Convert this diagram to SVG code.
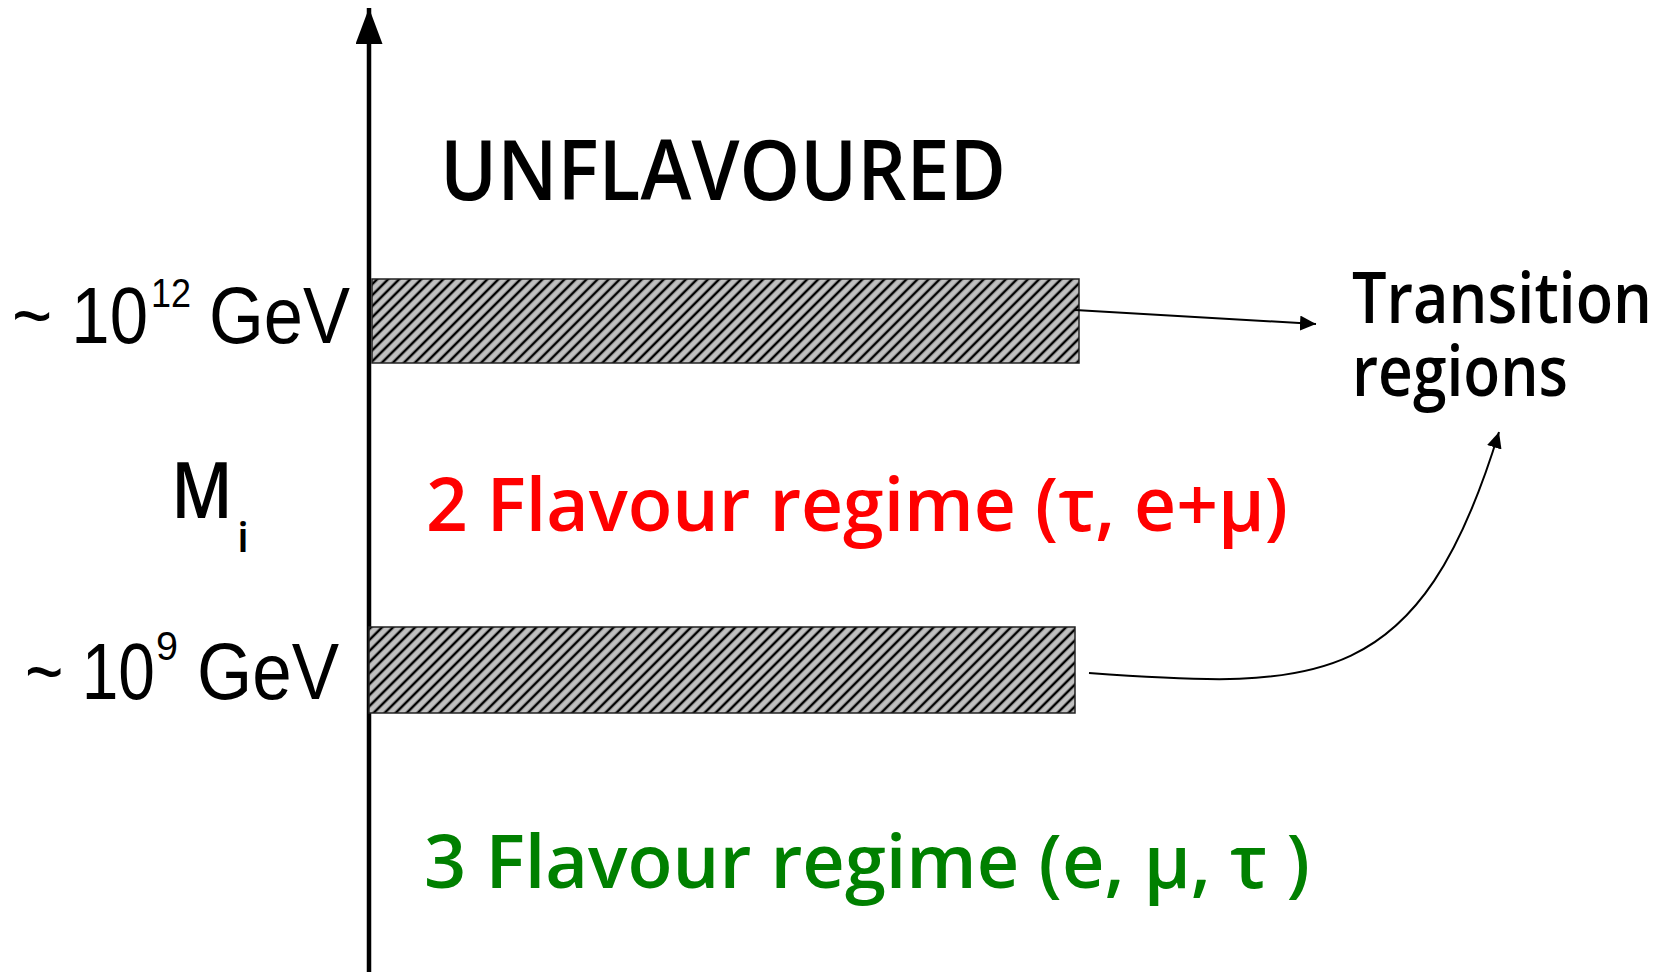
<svg xmlns="http://www.w3.org/2000/svg" width="1676" height="972" viewBox="0 0 1676 972">
<style>
.comic{font-family:"Open Sans","DejaVu Sans",sans-serif;font-weight:600}
.arial{font-family:"Liberation Sans",Arial,sans-serif}
.bar{fill:url(#hatch);stroke:#222;stroke-width:1.5}
.conn{fill:none;stroke:#000;stroke-width:2}
</style>
<defs>
<pattern id="hatch" patternUnits="userSpaceOnUse" width="7.8" height="7.8" patternTransform="rotate(45)">
<rect width="7.8" height="7.8" fill="#c0c0c0"/>
<line x1="3.9" y1="0" x2="3.9" y2="7.8" stroke="#000" stroke-width="2.5"/>
</pattern>
<marker id="ah" markerUnits="userSpaceOnUse" markerWidth="16" markerHeight="15" refX="16" refY="7.5" orient="auto">
<path d="M0,0 L16,7.5 L0,15 z" fill="#000"/>
</marker>
<marker id="axhead" markerUnits="userSpaceOnUse" markerWidth="36" markerHeight="27" refX="36" refY="13.5" orient="auto">
<path d="M0,0 L36,13.5 L0,27 z" fill="#000"/>
</marker>
</defs>
<rect width="1676" height="972" fill="#fff"/>

<g id="axis">
<line x1="369" y1="972" x2="369" y2="8" stroke="#000" stroke-width="4.5" marker-end="url(#axhead)"/>
</g>

<g id="bar-high">
<rect class="bar" x="372" y="279" width="707" height="84"/>
</g>
<g id="bar-low">
<rect class="bar" x="369" y="627" width="706" height="86"/>
</g>

<g id="label-unflavoured">
<text class="comic" x="440" y="200" font-size="84" textLength="566" lengthAdjust="spacingAndGlyphs">UNFLAVOURED</text>
</g>
<g id="label-2flavour">
<text class="comic" x="426" y="531" font-size="74" fill="#ff0000" textLength="862" lengthAdjust="spacingAndGlyphs">2 Flavour regime (τ, e+μ)</text>
</g>
<g id="label-3flavour">
<text class="comic" x="424" y="888" font-size="74" fill="#008000" textLength="886" lengthAdjust="spacingAndGlyphs">3 Flavour regime (e, μ, τ )</text>
</g>
<g id="label-transition">
<text class="comic" x="1352" y="323" font-size="70" textLength="300" lengthAdjust="spacingAndGlyphs">Transition</text>
<text class="comic" x="1352" y="396" font-size="70" textLength="216" lengthAdjust="spacingAndGlyphs">regions</text>
</g>
<g id="label-mi">
<text class="comic" x="171" y="518" font-size="78" textLength="62" lengthAdjust="spacingAndGlyphs">M</text>
<text class="comic" x="237" y="552" font-size="42" textLength="12" lengthAdjust="spacingAndGlyphs">i</text>
</g>
<g id="label-1e12">
<text class="arial" x="12" y="343" font-size="80" textLength="136" lengthAdjust="spacingAndGlyphs">~ 10</text>
<text class="arial" x="151" y="307" font-size="40" textLength="40" lengthAdjust="spacingAndGlyphs">12</text>
<text class="arial" x="209" y="343" font-size="80" textLength="141" lengthAdjust="spacingAndGlyphs">GeV</text>
</g>
<g id="label-1e9">
<text class="arial" x="25" y="699" font-size="80" textLength="130" lengthAdjust="spacingAndGlyphs">~ 10</text>
<text class="arial" x="156" y="660" font-size="40" textLength="22" lengthAdjust="spacingAndGlyphs">9</text>
<text class="arial" x="197" y="699" font-size="80" textLength="142" lengthAdjust="spacingAndGlyphs">GeV</text>
</g>

<g id="connectors">
<line class="conn" x1="1075" y1="310" x2="1316" y2="324" marker-end="url(#ah)"/>
<path class="conn" d="M1089,673 C1320,690 1420,690 1499,432" marker-end="url(#ah)"/>
</g>
</svg>
